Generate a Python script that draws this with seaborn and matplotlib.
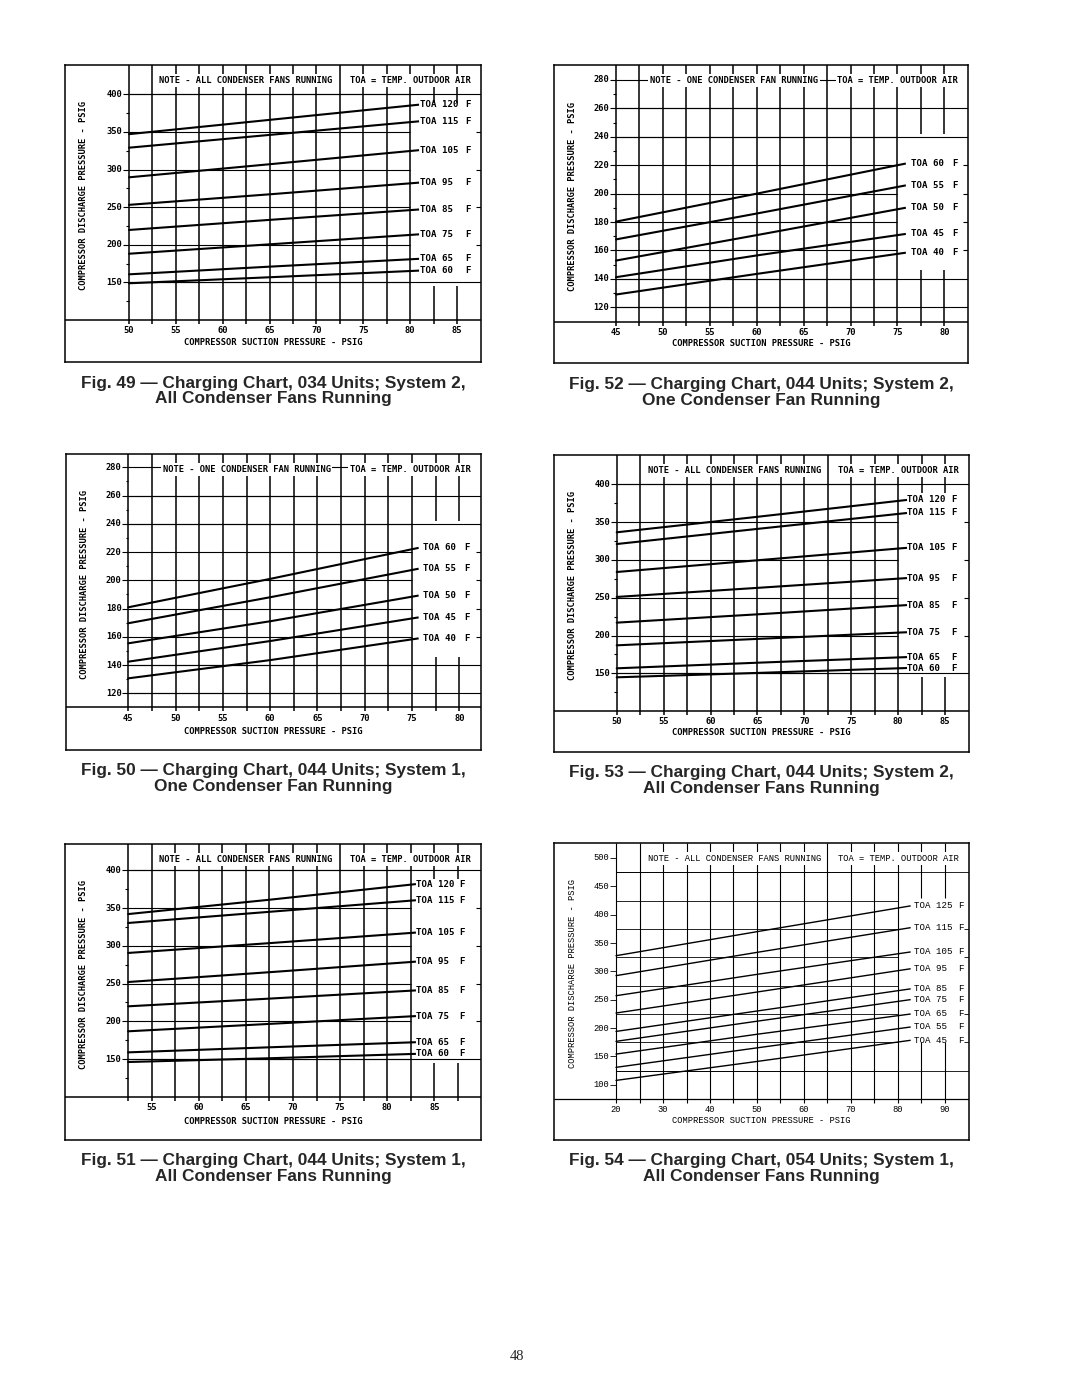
import matplotlib
matplotlib.use("Agg")
import matplotlib.pyplot as plt
import numpy as np
import pandas as pd
import seaborn as sns

W, H = 1080, 1397

# ------------------------------------------------------------
# data (discharge psig at the suction points)
# ------------------------------------------------------------
# Fig. 49 - 034 units, system 2, all condenser fans
suction_49 = [50, 65, 80]
toa_49 = [120, 115, 105, 95, 85, 75, 65, 60]
discharge_49 = [[347, 366, 385], [329, 346, 363], [289.6, 307, 324.6], [253, 267, 281.6],
                [219.6, 233, 246], [188, 200.5, 213], [160.6, 170.8, 180.6], [148.7, 156.7, 165]]

# Fig. 52 - 044 units, system 2, one condenser fan
suction_52 = [45, 60, 75]
toa_52 = [60, 55, 50, 45, 40]
discharge_52 = [[180.3, 200, 220], [167.8, 186, 204.7], [152.9, 170.8, 189],
                 [141.2, 156.5, 170.8], [129, 143.5, 157.6]]

# Fig. 50 - 044 units, system 1, one condenser fan
suction_50 = [45, 60, 75]
toa_50 = [60, 55, 50, 45, 40]
discharge_50 = [[180.9, 201, 222], [169.6, 188, 207.3], [155.4, 171, 188.4],
                 [142.4, 157, 173], [130.6, 143.5, 158.2]]

# Fig. 53 - 044 units, system 2, all condenser fans
suction_53 = [50, 65, 80]
toa_53 = [120, 115, 105, 95, 85, 75, 65, 60]
discharge_53 = [[336.5, 357, 378], [321, 341, 360.8], [284, 299.5, 315], [251, 263, 275.2],
                 [217, 228, 239.5], [187, 195.5, 203.8], [156.6, 164, 171], [144.7, 150.5, 156.6]]

# Fig. 51 - 044 units, system 1, all condenser fans
suction_51 = [52.5, 67.5, 82.5]
toa_51 = [120, 115, 105, 95, 85, 75, 65, 60]
discharge_51 = [[342, 361, 381], [330.2, 345, 359.8], [290.5, 303.5, 317], [252, 265, 278.5],
                 [219.8, 230, 240.5], [186.7, 196.5, 206.5], [158.8, 165.5, 172], [146, 151, 156.6]]

# Fig. 54 - 054 units, system 1, all condenser fans
suction_54 = [20, 50, 80]
toa_54 = [125, 115, 105, 95, 85, 75, 65, 55, 45]
discharge_54 = [[327.6, 370, 411.8], [292.4, 333.5, 373.5], [257, 294.7, 331], [226.5, 263.5, 301.2],
                 [194, 230, 265.9], [176.5, 212, 247], [154, 189, 221.8], [130.6, 165, 198.8],
                 [107.6, 141, 175.3]]

captions = {
    49: ("Fig. 49 \u2014 Charging Chart, 034 Units; System 2,", "All Condenser Fans Running"),
    52: ("Fig. 52 \u2014 Charging Chart, 044 Units; System 2,", "One Condenser Fan Running"),
    50: ("Fig. 50 \u2014 Charging Chart, 044 Units; System 1,", "One Condenser Fan Running"),
    53: ("Fig. 53 \u2014 Charging Chart, 044 Units; System 2,", "All Condenser Fans Running"),
    51: ("Fig. 51 \u2014 Charging Chart, 044 Units; System 1,", "All Condenser Fans Running"),
    54: ("Fig. 54 \u2014 Charging Chart, 054 Units; System 1,", "All Condenser Fans Running"),
}
notes = {
    49: "NOTE - ALL CONDENSER FANS RUNNING", 52: "NOTE - ONE CONDENSER FAN RUNNING",
    50: "NOTE - ONE CONDENSER FAN RUNNING", 53: "NOTE - ALL CONDENSER FANS RUNNING",
    51: "NOTE - ALL CONDENSER FANS RUNNING", 54: "NOTE - ALL CONDENSER FANS RUNNING",
}

# ------------------------------------------------------------
# layout of each panel (pixel frame + two reference ticks per axis)
# ------------------------------------------------------------
all_fans = dict(axis_y=100, ygrid=np.arange(150, 401, 50), yfull=[150, 400],
                yright=[200, 250, 300, 350], yminor=np.arange(125, 376, 50),
                ylabels=np.arange(150, 401, 50))
one_fan = dict(axis_y=110, ygrid=np.arange(120, 281, 20), yfull=[120, 140, 240, 260],
               yright=[160, 180, 200, 220], yminor=np.arange(130, 271, 20),
               ylabels=np.arange(120, 281, 20))

specs = {
    49: dict(all_fans, frame=(65, 65, 481, 362), xref=((50, 129), (85, 457)),
             yref=((400, 94.3), (150, 282.3)), xgrid=np.arange(50, 80.1, 2.5),
             stubs=[82.5, 85], stub_lo=145, stub_hi=388, xlabels=np.arange(50, 86, 5),
             lab_x=81.0, f_x=85.9, lead_to=80.95, thin=False),
    53: dict(all_fans, frame=(554, 455, 969, 752), xref=((50, 616.7), (85, 945)),
             yref=((400, 484.3), (150, 673.3)), xgrid=np.arange(50, 80.1, 2.5),
             stubs=[82.5, 85], stub_lo=145, stub_hi=388, xlabels=np.arange(50, 86, 5),
             lab_x=81.0, f_x=85.7, lead_to=80.95, thin=False),
    51: dict(all_fans, frame=(65, 844, 481, 1140), xref=((55, 151.7), (85, 434.3)),
             yref=((400, 870.3), (150, 1059)), xgrid=np.arange(52.5, 82.6, 2.5),
             stubs=[85, 87.5], stub_lo=145, stub_hi=388, xlabels=np.arange(55, 86, 5),
             lab_x=83.1, f_x=87.7, lead_to=83.05, thin=False),
    52: dict(one_fan, frame=(554, 65, 968, 363), xref=((45, 616), (80, 944.3)),
             yref=((280, 80), (120, 307.3)), xgrid=np.arange(45, 75.1, 2.5),
             stubs=[77.5, 80], stub_lo=146, stub_hi=242, xlabels=np.arange(45, 81, 5),
             lab_x=76.5, f_x=80.8, lead_to=75.9, thin=False),
    50: dict(one_fan, frame=(66, 454, 481, 750), xref=((45, 128.3), (80, 459.3)),
             yref=((280, 467.3), (120, 693.3)), xgrid=np.arange(45, 75.1, 2.5),
             stubs=[77.5, 80], stub_lo=146, stub_hi=242, xlabels=np.arange(45, 81, 5),
             lab_x=76.2, f_x=80.5, lead_to=75.7, thin=False),
    54: dict(frame=(554, 843, 969, 1140), xref=((20, 616), (90, 945)),
             yref=((500, 858), (100, 1084.7)), axis_y=75, xgrid=np.arange(20, 80.1, 5),
             stubs=[85, 90], stub_lo=176, stub_hi=429, xlabels=np.arange(20, 91, 10),
             ygrid=np.arange(125, 476, 50), yfull=[125, 475], yright=[175, 225, 325, 375],
             yminor=[], ylabels=np.arange(100, 501, 50),
             lab_x=83.3, f_x=92.8, lead_to=82.7, thin=True),
}

panel_data = {
    49: (suction_49, toa_49, discharge_49), 52: (suction_52, toa_52, discharge_52),
    50: (suction_50, toa_50, discharge_50), 53: (suction_53, toa_53, discharge_53),
    51: (suction_51, toa_51, discharge_51), 54: (suction_54, toa_54, discharge_54),
}

sns.set_style("white")
plt.rcParams["font.family"] = ["DejaVu Sans Mono", "DejaVu Sans"]

fig = plt.figure(figsize=(W / 100, H / 100), dpi=100)


def draw_panel(num):
    sp = specs[num]
    suction, toa, discharge = panel_data[num]
    L, T, R, B = sp["frame"]
    (xv0, xp0), (xv1, xp1) = sp["xref"]
    (yv0, yp0), (yv1, yp1) = sp["yref"]
    sx = (xp1 - xp0) / (xv1 - xv0)          # px per x unit
    sy = (yp1 - yp0) / (yv0 - yv1)          # px per y unit (upwards)
    xlim = (xv0 - (xp0 - L) / sx, xv0 + (R - xp0) / sx)
    ylim = (yv0 - (B - yp0) / sy, yv0 + (yp0 - T) / sy)

    ax = fig.add_axes([L / W, 1 - B / H, (R - L) / W, (B - T) / H])

    thin = sp["thin"]
    vlw, hlw, dlw = (0.8, 0.6, 1.0) if thin else (1.1, 0.8, 1.5)
    tkw = dict(fontsize=6.3, color="black",
               family="Liberation Mono" if thin else "DejaVu Sans Mono",
               weight="normal" if thin else "bold")
    lkw = dict(tkw, fontsize=6.6)

    # curves
    df = pd.DataFrame([{"suction": s, "discharge": d, "toa": t}
                       for t, row in zip(toa, discharge) for s, d in zip(suction, row)])
    sns.lineplot(data=df, x="suction", y="discharge", units="toa", estimator=None,
                 color="black", lw=dlw, ax=ax, legend=False)

    ax_y = sp["axis_y"]
    x_lo, x_hi = sp["xgrid"][0], sp["xgrid"][-1]
    tick_y = 4 / sy
    tick_x = 6 / sx
    line = dict(color="black", solid_capstyle="butt")

    # bottom axis line and vertical grid
    ax.plot(xlim, [ax_y, ax_y], lw=hlw + 0.3, **line)
    for x in sp["xgrid"]:
        ax.plot([x, x], [ax_y - tick_y, ylim[1]], lw=vlw, **line)
    for x in sp["stubs"]:
        ax.plot([x, x], [ax_y - tick_y, sp["stub_lo"]], lw=vlw, **line)
        ax.plot([x, x], [sp["stub_hi"], ylim[1]], lw=vlw, **line)

    # horizontal grid
    for y in sp["ygrid"]:
        ax.plot([x_lo, x_hi], [y, y], lw=hlw, **line)
    for y in sp["yfull"]:
        ax.plot([x_lo, xlim[1]], [y, y], lw=hlw, **line)
    for y in sp["yright"]:
        ax.plot([xlim[1] - 5 / sx, xlim[1]], [y, y], lw=hlw, **line)
    for y in sp["yminor"]:
        ax.plot([x_lo - tick_x * 0.45, x_lo], [y, y], lw=hlw, **line)
    for y in sp["ylabels"]:
        ax.plot([x_lo - tick_x, x_lo], [y, y], lw=hlw, **line)
        ax.annotate(f"{y:g}", (x_lo - tick_x, y), xytext=(-0.5, 0), textcoords="offset points",
                    ha="right", va="center", **tkw)
    for x in sp["xlabels"]:
        ax.annotate(f"{x:g}", (x, ax_y), xytext=(0, -4.5), textcoords="offset points",
                    ha="center", va="top", **tkw)

    # leaders and TOA labels
    for t, row in zip(toa, discharge):
        slope = (row[-1] - row[-2]) / (suction[-1] - suction[-2])
        y_end = row[-1] + slope * (sp["lead_to"] - suction[-1])
        ax.plot([suction[-1], sp["lead_to"]], [row[-1], y_end], lw=dlw, **line)
        ax.text(sp["lab_x"], y_end, f"TOA {t}", ha="left", va="center", **lkw)
        ax.text(sp["f_x"], y_end, "F", ha="left", va="center", **lkw)

    # header notes and axis titles
    box = dict(facecolor="white", edgecolor="none", pad=1.2)
    ax.text(0.435, 0.948, notes[num], transform=ax.transAxes, ha="center", va="center",
            bbox=box, **tkw)
    ax.text(0.83, 0.948, "TOA = TEMP. OUTDOOR AIR", transform=ax.transAxes, ha="center",
            va="center", bbox=box, **tkw)
    ax.text(0.5, 0.064, "COMPRESSOR SUCTION PRESSURE - PSIG", transform=ax.transAxes,
            ha="center", va="center", **tkw)
    ax.text(0.045, 0.56, "COMPRESSOR DISCHARGE PRESSURE - PSIG", transform=ax.transAxes,
            ha="center", va="center", rotation=90, **tkw)

    ax.set_xlim(xlim)
    ax.set_ylim(ylim)
    ax.set_xticks([])
    ax.set_yticks([])
    ax.set_xlabel("")
    ax.set_ylabel("")
    for s in ax.spines.values():
        s.set_visible(True)
        s.set_color("black")
        s.set_linewidth(1.1)

    # caption under the chart
    cx = (L + R) / 2 / W
    line1, line2 = captions[num]
    fig.text(cx, 1 - (B + 21) / H, line1, ha="center", va="center",
             family="Liberation Sans", weight="bold", fontsize=12.4)
    fig.text(cx, 1 - (B + 37) / H, line2, ha="center", va="center",
             family="Liberation Sans", weight="bold", fontsize=12.4)


for n in [49, 52, 50, 53, 51, 54]:
    draw_panel(n)

fig.text(517 / W, 1 - 1356.7 / H, "48", ha="center", va="center",
         family="Liberation Serif", fontsize=10.5)

fig.savefig("out.png", dpi=100, facecolor="white")
